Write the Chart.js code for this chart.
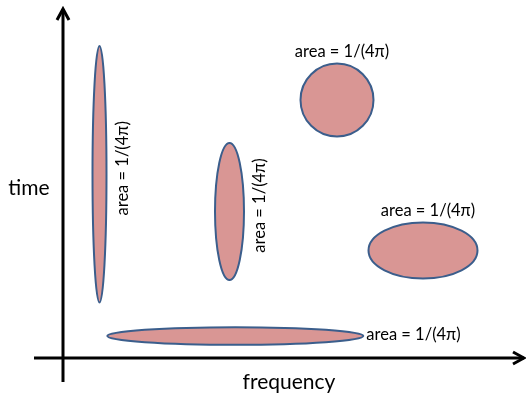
<!DOCTYPE html>
<html>
<head>
<meta charset="utf-8">
<script src="https://cdn.jsdelivr.net/npm/chart.js@4/dist/chart.umd.min.js"></script>
<style>
  html, body { margin: 0; padding: 0; background: #ffffff; }
  #wrap { width: 526px; height: 395px; position: relative; }
</style>
</head>
<body>
<div id="wrap"><canvas id="c" width="526" height="395"></canvas></div>
<script>
// Data (time–frequency uncertainty cells, all of area 1/(4π))
const cellNames   = ['narrow-tall', 'medium-tall', 'round', 'medium-wide', 'flat-wide'];
const centerFreq  = [3.65, 16.65, 27.4, 36.0, 17.23];
const centerTime  = [18.37, 14.65, 25.8, 10.75, 2.2];
const halfFreq    = [0.70, 1.45, 3.65, 5.45, 12.8];
const halfTime    = [12.83, 6.85, 3.65, 2.8, 0.88];
const cellLabels  = ['area = 1/(4π)', 'area = 1/(4π)', 'area = 1/(4π)', 'area = 1/(4π)', 'area = 1/(4π)'];
const labelSide   = ['rotated', 'rotated', 'above', 'above', 'right'];
const xAxisTitle  = 'frequency';
const yAxisTitle  = 'time';

const FONT = 'Lato, "Open Sans", sans-serif';

const ellipsePlugin = {
  id: 'ellipses',
  afterDatasetsDraw(chart) {
    const ctx = chart.ctx;
    const xs = chart.scales.x, ys = chart.scales.y;
    const area = chart.chartArea;

    // axes with arrows
    ctx.save();
    ctx.strokeStyle = '#000';
    ctx.lineWidth = 3;
    ctx.lineCap = 'butt';
    const ox = xs.getPixelForValue(0), oy = ys.getPixelForValue(0);
    ctx.beginPath();
    ctx.moveTo(ox, oy + 24); ctx.lineTo(ox, area.top - 1);
    ctx.moveTo(ox - 29, oy); ctx.lineTo(area.right + 1, oy);
    ctx.stroke();
    ctx.lineJoin = 'miter';
    ctx.beginPath();
    ctx.moveTo(ox - 6, area.top + 10); ctx.lineTo(ox, area.top - 1); ctx.lineTo(ox + 6, area.top + 10);
    ctx.moveTo(area.right - 10, oy - 6); ctx.lineTo(area.right + 1, oy); ctx.lineTo(area.right - 10, oy + 6);
    ctx.stroke();
    ctx.restore();

    // ellipses
    for (let i = 0; i < cellNames.length; i++) {
      const cx = xs.getPixelForValue(centerFreq[i]);
      const cy = ys.getPixelForValue(centerTime[i]);
      const rx = Math.abs(xs.getPixelForValue(centerFreq[i] + halfFreq[i]) - cx);
      const ry = Math.abs(ys.getPixelForValue(centerTime[i] + halfTime[i]) - cy);
      ctx.save();
      ctx.beginPath();
      ctx.ellipse(cx, cy, rx, ry, 0, 0, Math.PI * 2);
      ctx.fillStyle = '#D99694';
      ctx.fill();
      ctx.lineWidth = 2;
      ctx.strokeStyle = '#3B5E8C';
      ctx.stroke();
      ctx.restore();

      // label
      ctx.save();
      ctx.fillStyle = '#000';
      ctx.font = '16.5px ' + FONT;
      ctx.textBaseline = 'middle';
      if (labelSide[i] === 'rotated') {
        ctx.translate(cx + rx + 16, cy - 6);
        ctx.rotate(-Math.PI / 2);
        ctx.textAlign = 'center';
        ctx.fillText(cellLabels[i], 0, 0);
      } else if (labelSide[i] === 'above') {
        ctx.textAlign = 'center';
        ctx.fillText(cellLabels[i], cx + 5, cy - ry - 12);
      } else {
        ctx.textAlign = 'left';
        ctx.fillText(cellLabels[i], cx + rx + 3, cy - 1);
      }
      ctx.restore();
    }

    // axis titles
    ctx.save();
    ctx.fillStyle = '#000';
    ctx.font = '21px ' + FONT;
    ctx.textBaseline = 'middle';
    ctx.textAlign = 'center';
    ctx.fillText(xAxisTitle, 289, oy + 24);
    ctx.fillText(yAxisTitle, 29, 188);
    ctx.restore();
  }
};

new Chart(document.getElementById('c'), {
  type: 'scatter',
  data: {
    datasets: [{
      label: 'cell centres',
      data: centerFreq.map((f, i) => ({ x: f, y: centerTime[i] })),
      pointRadius: 0,
      pointHoverRadius: 0,
      showLine: false
    }]
  },
  options: {
    responsive: false,
    animation: false,
    events: [],
    layout: { padding: { left: 63, top: 10, right: 3, bottom: 37 } },
    plugins: { legend: { display: false }, tooltip: { enabled: false } },
    scales: {
      x: { type: 'linear', min: 0, max: 46, display: false },
      y: { type: 'linear', min: 0, max: 34.8, display: false }
    }
  },
  plugins: [ellipsePlugin]
});
</script>
</body>
</html>
